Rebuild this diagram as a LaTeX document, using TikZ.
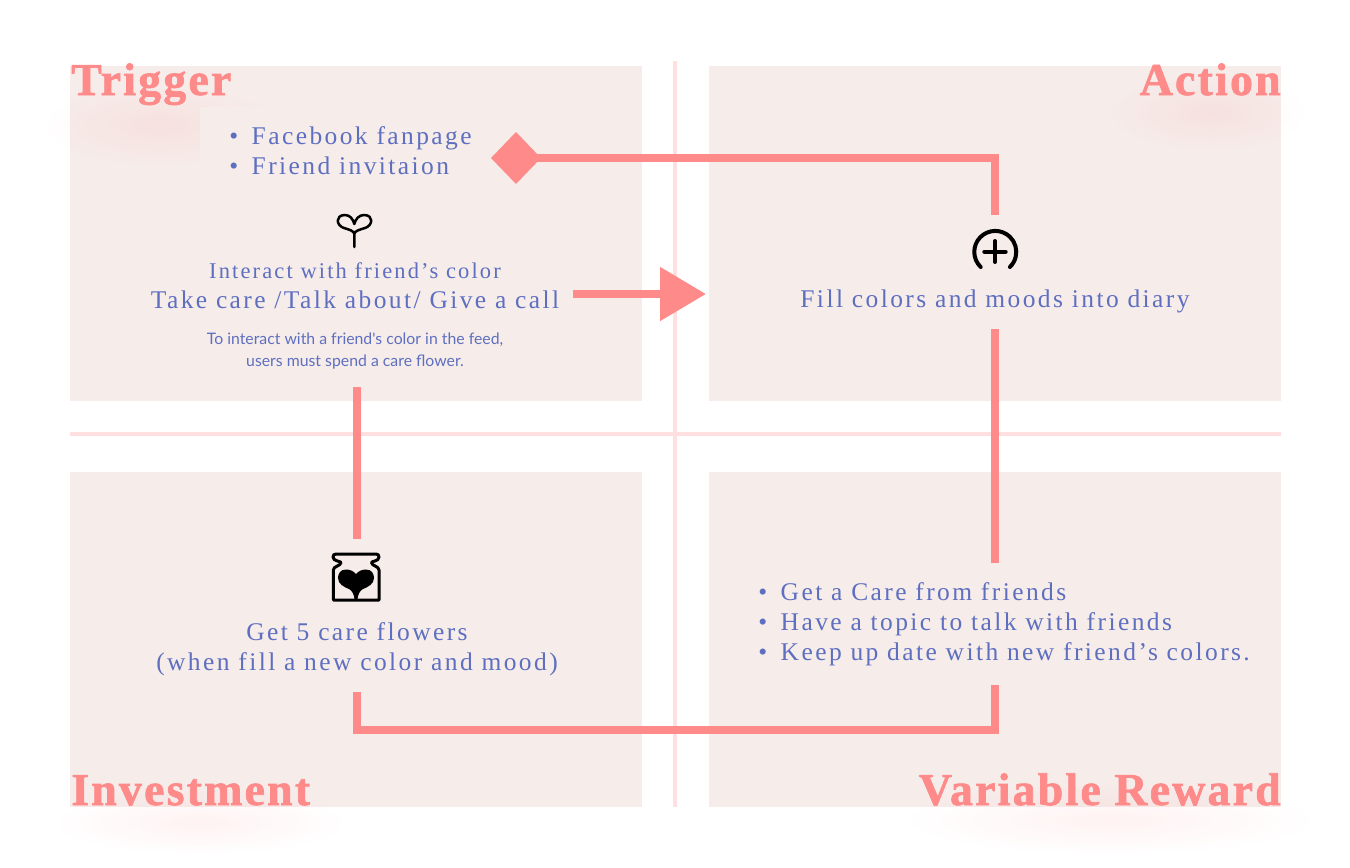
\documentclass[tikz,border=0pt]{standalone}
\usepackage{fontspec}
\newfontfamily\bodyfont[LetterSpace=9.5]{Liberation Serif}
\newfontfamily\titlefont[FakeBold=1.5,LetterSpace=5]{Liberation Serif}
\newfontfamily\notefont{Lato}
\usetikzlibrary{arrows.meta,fadings}
\tikzfading[name=softglow, inner color=transparent!0, outer color=transparent!100]
\definecolor{panelpink}{HTML}{F6ECEA}
\definecolor{crosspink}{HTML}{FFDFE0}
\definecolor{linkred}{HTML}{FF8A8A}
\definecolor{textblue}{HTML}{5E6FC0}
\begin{document}
\begin{tikzpicture}[
            x=0.02cm, y=-0.02cm,
            panel/.style={fill=panelpink, draw=none},
            crossline/.style={crosspink, line width=0.08cm},
            glow/.style={fill=linkred, opacity=0.11, path fading=softglow},
            title/.style={text=linkred, inner sep=0pt, font=\titlefont\fontsize{26}{26}\selectfont\bfseries},
            body/.style={text=textblue, inner sep=0pt, align=center, font=\bodyfont\fontsize{14.5}{17}\selectfont},
            bodysmall/.style={body, font=\bodyfont\fontsize{12.8}{17}\selectfont},
            listbox/.style={body, align=left},
            note/.style={text=textblue, inner sep=0pt, align=center, font=\notefont\fontsize{9}{13}\selectfont},
            icon/.style={inner sep=0pt, minimum size=#1},
            iconline/.style={black, line width=0.05cm, line cap=round, line join=round},
            link/.style={linkred, line width=0.17cm}
        ]
        \useasboundingbox (0,0) rectangle (1350,867);

        % Quadrants and the cross between them
        \fill[panel] (70,66) rectangle (642,401);
        \fill[panel] (709,66) rectangle (1281,401);
        \fill[panel] (70,472) rectangle (642,807);
        \fill[panel] (709,472) rectangle (1281,807);
        \draw[crossline] (70,433.5) -- (1281,433.5);
        \draw[crossline] (675,61) -- (675,807);

        % Soft glow under the titles
        \fill[glow] (40,85) rectangle (280,165);
        \fill[panel] (200,107) rectangle (480,190);
        \fill[glow] (1110,75) rectangle (1310,150);
        \fill[glow] (50,790) rectangle (350,855);
        \fill[glow] (900,785) rectangle (1320,855);

        % Titles
        \node[title, anchor=base west] (trigger_lbl) at (71,95) {Trigger};
        \node[title, anchor=base east] (action_lbl) at (1281,95) {Action};
        \node[title, anchor=base west] (invest_lbl) at (71,805) {Investment};
        \node[title, anchor=base east] (reward_lbl) at (1281,805) {Variable Reward};

        % Trigger
        \node[listbox, anchor=west] (trigger_list) at (229,151) {•\hspace{0.27cm}Facebook fanpage\\•\hspace{0.27cm}Friend invitaion};
        \node[icon=1cm] (flower_icon) at (354,230) {};
        \node[bodysmall] (interact_txt) at (355,271) {Interact with friend’s color};
        \node[body, minimum height=0.6cm] (care_txt) at (355,300) {Take care /Talk about/ Give a call};
        \node[note, minimum height=1.44cm] (note_txt) at (355,351) {To interact with a friend's color in the feed,\\users must spend a care flower.};

        % Action
        \node[icon=1.4cm] (plus_icon) at (995,250) {};
        \node[body, minimum height=1.12cm] (fill_txt) at (995,301) {Fill colors and moods into diary};

        % Variable reward
        \node[listbox, anchor=west, minimum height=2.44cm] (reward_list) at (758,624) {•\hspace{0.27cm}Get a Care from friends\\•\hspace{0.27cm}Have a topic to talk with friends\\•\hspace{0.27cm}Keep up date with new friend’s colors.};

        % Investment
        \node[icon=1.56cm] (jar_icon) at (357,578) {};
        \node[body, minimum height=1.72cm] (get_txt) at (357,649) {Get 5 care flowers\\(when fill a new color and mood)};

        % Icons
        \draw[iconline] (354.3,247) -- (354.3,234)
            .. controls (354.3,231) and (349,229.5) .. (344,228)
            .. controls (336,225.5) and (335,215) .. (345,215)
            .. controls (350,215) and (353,219) .. (354.3,224)
            .. controls (355.6,219) and (359,215) .. (364,215)
            .. controls (374,215) and (373,225.5) .. (365,228)
            .. controls (360,229.5) and (354.3,231) .. (354.3,234);
        \draw[iconline, line width=0.08cm] (980.7,267) arc[start angle=226, end angle=-46, radius=0.42cm];
        \draw[iconline, line width=0.08cm] (984.3,251.7) -- (1005.7,251.7);
        \draw[iconline, line width=0.08cm] (995,241) -- (995,262);
        \draw[iconline, line width=0.06cm, line cap=butt] (333.3,600) -- (333.3,570)
            .. controls (333.3,566) and (341,566) .. (341,562.5)
            .. controls (341,561) and (333,561.5) .. (333,557)
            .. controls (333,555) and (334,554) .. (336,554)
            -- (376,554)
            .. controls (378,554) and (379,555) .. (379,557)
            .. controls (379,561.5) and (371.5,561) .. (371.5,562.5)
            .. controls (371.5,566) and (379,566) .. (379,570)
            -- (379,600) -- cycle;
        \fill[black] (356,574)
            .. controls (353,570.5) and (349,569.5) .. (346,569.5)
            .. controls (340,569.5) and (338,574) .. (338,578)
            .. controls (338,584) and (344,587) .. (349,589)
            .. controls (352,590.5) and (354,594) .. (354.7,600)
            -- (357.3,600)
            .. controls (358,594) and (360,590.5) .. (363,589)
            .. controls (368,587) and (374,584) .. (374,578)
            .. controls (374,574) and (372,569.5) .. (366,569.5)
            .. controls (363,569.5) and (359,570.5) .. (356,574) -- cycle;

        % Connectors
        \coordinate (diamond_end) at (491,158);
        \coordinate (care_end) at (706,294);
        \draw[link, -{Diamond[length=1cm,width=1.04cm]}] (plus_icon.north) |- (diamond_end);
        \draw[link, -{Triangle[length=0.92cm,width=1.04cm]}] (573,294) -- (care_end);
        \draw[link] (note_txt.south -| jar_icon) -- (jar_icon.north);
        \draw[link] (reward_list.north -| fill_txt) -- (fill_txt.south);
        \draw[link] (reward_list.south -| fill_txt) -- (995,730) -| (get_txt.south);
    \end{tikzpicture}
\end{document}
